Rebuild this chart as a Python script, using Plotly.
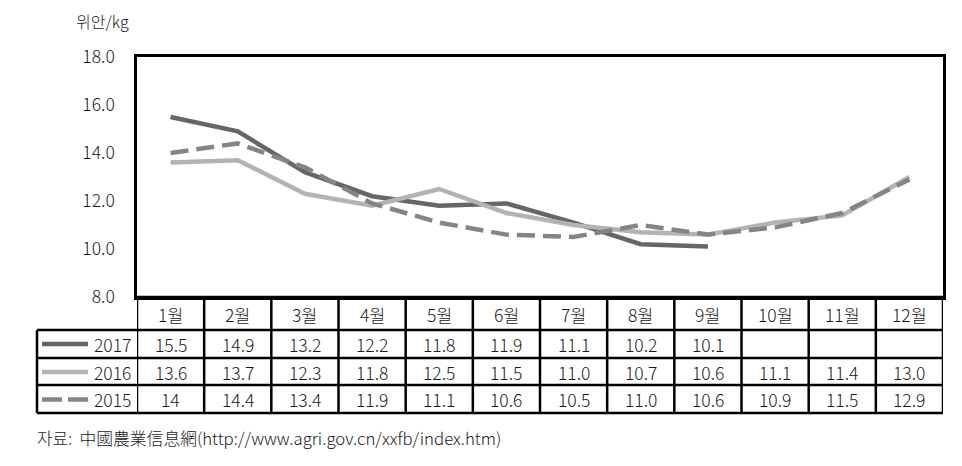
import plotly.graph_objects as go

months = ["1월", "2월", "3월", "4월", "5월", "6월", "7월", "8월", "9월", "10월", "11월", "12월"]
years = ["2017", "2016", "2015"]
v2017 = [15.5, 14.9, 13.2, 12.2, 11.8, 11.9, 11.1, 10.2, 10.1]
v2016 = [13.6, 13.7, 12.3, 11.8, 12.5, 11.5, 11.0, 10.7, 10.6, 11.1, 11.4, 13.0]
v2015 = [14.0, 14.4, 13.4, 11.9, 11.1, 10.6, 10.5, 11.0, 10.6, 10.9, 11.5, 12.9]
t2017 = ["15.5", "14.9", "13.2", "12.2", "11.8", "11.9", "11.1", "10.2", "10.1", "", "", ""]
t2016 = ["13.6", "13.7", "12.3", "11.8", "12.5", "11.5", "11.0", "10.7", "10.6", "11.1", "11.4", "13.0"]
t2015 = ["14", "14.4", "13.4", "11.9", "11.1", "10.6", "10.5", "11.0", "10.6", "10.9", "11.5", "12.9"]
yticks = [8, 10, 12, 14, 16, 18]
unit = "위안/kg"
source = "자료:  中國農業信息網(http://www.agri.gov.cn/xxfb/index.htm)"

W, H = 962, 466
PL, PR, PT, PB = 137, 943, 57, 297
FONT = "Noto Sans CJK KR"
WEIGHT = 300

def py(p):
    return 1 - p / H

def px(p):
    return p / W

styles = [
    dict(color="#666666", width=4.5, dash="solid"),
    dict(color="#b3b3b3", width=4.5, dash="solid"),
    dict(color="#858585", width=4.5, dash="18px,8px"),
]
series = [v2017, v2016, v2015]
texts = [t2017, t2016, t2015]

fig = go.Figure()
for name, vals, st in zip(years, series, styles):
    fig.add_trace(go.Scatter(x=list(range(len(vals))), y=vals, mode="lines",
                             name=name, line=st, showlegend=False))

shapes = []
annotations = []

row_edges = [PB, 330, 358, 385, 413]
row_centers = [314, 344, 372, 399.5]

for i, ye in enumerate(row_edges):
    x0 = PL if i == 0 else 37
    shapes.append(dict(type="line", xref="paper", yref="paper",
                       x0=px(x0), x1=px(PR), y0=py(ye), y1=py(ye),
                       line=dict(color="black", width=2.5)))
for i in range(len(months) + 1):
    shapes.append(dict(type="line", xref="x", yref="paper",
                       x0=i - 0.5, x1=i - 0.5, y0=py(PB), y1=py(413),
                       line=dict(color="black", width=2.5)))
shapes.append(dict(type="line", xref="paper", yref="paper",
                   x0=px(37), x1=px(37), y0=py(330), y1=py(413),
                   line=dict(color="black", width=2.5)))

def ann(x, y, text, xref="x", xanchor="center", size=17.5):
    return dict(x=x, y=y, xref=xref, yref="paper", text=text, showarrow=False,
                xanchor=xanchor, yanchor="middle",
                font=dict(family=FONT, size=size, color="#1a1a1a", weight=WEIGHT))

for i, m in enumerate(months):
    annotations.append(ann(i, py(row_centers[0]), m))
for r, (name, tx, st) in enumerate(zip(years, texts, styles)):
    yc = row_centers[r + 1]
    for i, t in enumerate(tx):
        if t:
            annotations.append(ann(i, py(yc), t))
    shapes.append(dict(type="line", xref="paper", yref="paper",
                       x0=px(42), x1=px(88), y0=py(yc), y1=py(yc),
                       line=dict(color=st["color"], width=4.5,
                                 dash="20px,6px" if st["dash"] != "solid" else "solid")))
    annotations.append(ann(px(133), py(yc), name, xref="paper", xanchor="right"))

annotations.append(ann(px(74), py(21), unit, xref="paper", xanchor="left", size=16))
annotations.append(ann(px(35), py(438), source, xref="paper", xanchor="left", size=16.8))

fig.update_layout(
    width=W, height=H, autosize=False,
    margin=dict(l=0, r=0, t=0, b=0, pad=0),
    paper_bgcolor="white", plot_bgcolor="white",
    shapes=shapes, annotations=annotations,
    xaxis=dict(domain=[px(PL), px(PR)], range=[-0.5, 11.5], automargin=False,
               showticklabels=False, showgrid=False, zeroline=False,
               showline=True, linecolor="black", linewidth=2.5, mirror=True),
    yaxis=dict(domain=[py(PB), py(PT)], range=[8, 18], automargin=False,
               tickvals=yticks, ticktext=[f"{v:.1f}" for v in yticks],
               showgrid=False, zeroline=False,
               showline=True, linecolor="black", linewidth=2.5, mirror=True,
               ticks="", ticklabelstandoff=16,
               tickfont=dict(family=FONT, size=17.5, color="#1a1a1a", weight=WEIGHT)),
)

fig.write_html("out.html")
